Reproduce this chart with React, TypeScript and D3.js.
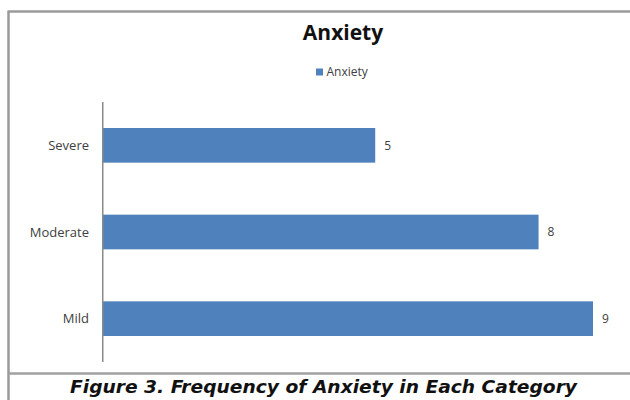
import React from "react";
import * as d3 from "d3";

// Anxiety frequency by severity category
const categories = ["Severe", "Moderate", "Mild"];
const counts = [5, 8, 9];
const seriesName = "Anxiety";
const chartTitle = "Anxiety";
const caption = "Figure 3. Frequency of Anxiety in Each Category";

const W = 630;
const H = 400;
const BAR = "#4f81bd";
const LABEL = "#404040";
const FONT = "'Open Sans', 'Noto Sans', sans-serif";

export default function App() {
  const x = d3.scaleLinear().domain([0, 9]).range([103, 593]);
  const y = d3
    .scaleBand<string>()
    .domain(categories)
    .range([102, 362])
    .paddingInner(0.6)
    .paddingOuter(0.3);

  const rows = categories.map((c, i) => ({ c, v: counts[i] }));

  return (
    <svg
      width={W}
      height={H}
      style={{ position: "absolute", left: 0, top: 0, background: "#fff" }}
    >
      <rect x={0} y={0} width={W} height={H} fill="#fff" />
      {/* chart frame */}
      <line x1={8.5} x2={W} y1={11.5} y2={11.5} stroke="#9a9a9a" strokeWidth={2.5} />
      <line x1={8.5} x2={8.5} y1={10.5} y2={H} stroke="#9a9a9a" strokeWidth={2.5} />
      <line x1={8.5} x2={W} y1={373.5} y2={373.5} stroke="#a0a0a0" strokeWidth={2.5} />

      <text
        x={343}
        y={40}
        textAnchor="middle"
        fontFamily={FONT}
        fontWeight="bold"
        fontSize={21}
        fill="#111"
      >
        {chartTitle}
      </text>

      {/* legend */}
      <rect x={316} y={68.5} width={7} height={7} fill={BAR} />
      <text x={326.5} y={76} fontFamily={FONT} fontSize={12} fill={LABEL}>
        {seriesName}
      </text>

      {/* bars */}
      {rows.map((d) => (
        <g key={d.c}>
          <rect
            x={x(0)}
            y={y(d.c)!}
            width={x(d.v) - x(0)}
            height={y.bandwidth()}
            fill={BAR}
          />
          <text
            x={x(d.v) + 9}
            y={y(d.c)! + y.bandwidth() / 2}
            dy="0.35em"
            fontFamily={FONT}
            fontSize={12}
            fill={LABEL}
          >
            {d.v}
          </text>
          <text
            x={89}
            y={y(d.c)! + y.bandwidth() / 2}
            dy="0.35em"
            textAnchor="end"
            fontFamily={FONT}
            fontSize={13}
            fill={LABEL}
          >
            {d.c}
          </text>
        </g>
      ))}

      {/* category axis */}
      <line x1={102.75} x2={102.75} y1={102} y2={362} stroke="#8a8a8a" strokeWidth={1.5} />

      <text
        x={323.5}
        y={392.5}
        textAnchor="middle"
        fontFamily="'DejaVu Sans', Verdana, sans-serif"
        fontWeight="bold"
        fontStyle="italic"
        fontSize={17}
        textLength={507}
        lengthAdjust="spacingAndGlyphs"
        fill="#111"
      >
        {caption}
      </text>
    </svg>
  );
}
